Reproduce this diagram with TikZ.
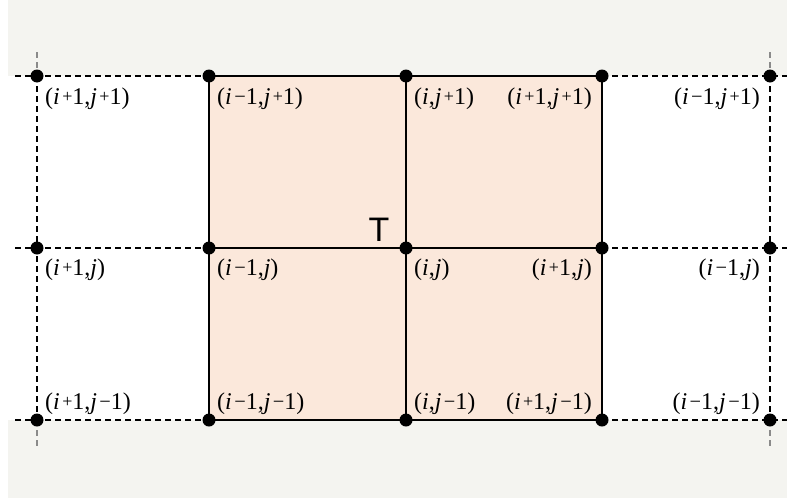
\documentclass[tikz,border=0pt]{standalone}
\usepackage{fontspec}
\setmainfont{Liberation Serif}
\newfontfamily\tfont{Liberation Sans}
\usepackage{graphicx}
\newcommand{\pl}{\hspace{0.1em}\raisebox{0.1em}{\scalebox{0.75}{+}}}
\newcommand{\mn}{\hspace{0.1em}\raisebox{0.05em}{\scalebox{0.85}{−}}}
\definecolor{bgc}{HTML}{F4F4F0}
\definecolor{peach}{HTML}{FBE8DB}
\definecolor{extc}{HTML}{8A8A8A}
\tikzset{
  dot/.style={circle,fill=black,inner sep=0pt,minimum size=13pt},
  solidln/.style={line width=2.4pt,black},
  dashln/.style={line width=2.4pt,black,dash pattern=on 6pt off 4pt},
  extln/.style={line width=2.4pt,extc,dash pattern=on 6pt off 4pt},
  lab/.style={inner sep=0pt,font=\fontsize{24}{26}\selectfont},
  labl/.style={lab,anchor=west},
  labr/.style={lab,anchor=east},
}
\begin{document}
\begin{tikzpicture}[x=1pt,y=-1pt]
\useasboundingbox (0,0) rectangle (787,498);
\fill[white] (0,0) rectangle (787,498);
\fill[bgc] (8,0) rectangle (787,76);
\fill[bgc] (8,420) rectangle (787,498);
\fill[peach] (209,76) rectangle (602,420);
% grid points
\foreach \n/\x in {a/37,b/209,c/406,d/602,e/770}{
  \coordinate (\n1) at (\x,76);
  \coordinate (\n2) at (\x,248);
  \coordinate (\n3) at (\x,420);
}
\coordinate (L1) at (15,76); \coordinate (L2) at (15,248); \coordinate (L3) at (15,420);
\coordinate (R1) at (787,76); \coordinate (R2) at (787,248); \coordinate (R3) at (787,420);
\coordinate (ta) at (37,52); \coordinate (ba) at (37,446);
\coordinate (te) at (770,52); \coordinate (be) at (770,446);
% extensions
\draw[extln] (ta) -- (a1);
\draw[extln] (a3) -- (ba);
\draw[extln] (te) -- (e1);
\draw[extln] (e3) -- (be);
% dashed parts
\foreach \r in {1,2,3}{
  \draw[dashln] (L\r) -- (b\r);
  \draw[dashln] (d\r) -- (R\r);
}
\draw[dashln] (a1) -- (a3);
\draw[dashln] (e1) -- (e3);
% solid grid
\foreach \r in {1,2,3}{ \draw[solidln] (b\r) -- (d\r); }
\foreach \c in {b,c,d}{ \draw[solidln] (\c1) -- (\c3); }
% dots
\foreach \c in {a,b,c,d,e}{
  \foreach \r in {1,2,3}{ \node[dot] (n\c\r) at (\c\r) {}; }
}
% labels top row
\node[labl] (t1) at (45,99) {(\textit{i}\pl1,\textit{j}\pl1)};
\node[labl] (t2) at (217,99) {(\textit{i}\mn1,\textit{j}\pl1)};
\node[labl] (t3) at (414,99) {(\textit{i},\textit{j}\pl1)};
\node[labr] (t4) at (592,99) {(\textit{i}\pl1,\textit{j}\pl1)};
\node[labr] (t5) at (760,99) {(\textit{i}\mn1,\textit{j}\pl1)};
% middle row
\node[labl] (m1) at (45,270) {(\textit{i}\pl1,\textit{j})};
\node[labl] (m2) at (217,270) {(\textit{i}\mn1,\textit{j})};
\node[labl] (m3) at (414,270) {(\textit{i},\textit{j})};
\node[labr] (m4) at (592,270) {(\textit{i}\pl1,\textit{j})};
\node[labr] (m5) at (760,270) {(\textit{i}\mn1,\textit{j})};
% bottom row
\node[labl] (u1) at (45,404) {(\textit{i}\pl1,\textit{j}\mn1)};
\node[labl] (u2) at (217,404) {(\textit{i}\mn1,\textit{j}\mn1)};
\node[labl] (u3) at (414,404) {(\textit{i},\textit{j}\mn1)};
\node[labr] (u4) at (592,404) {(\textit{i}\pl1,\textit{j}\mn1)};
\node[labr] (u5) at (760,404) {(\textit{i}\mn1,\textit{j}\mn1)};
% T
\node[inner sep=0pt,font=\tfont\fontsize{34}{34}\selectfont] (T) at (379,230) {T};
\end{tikzpicture}
\end{document}
